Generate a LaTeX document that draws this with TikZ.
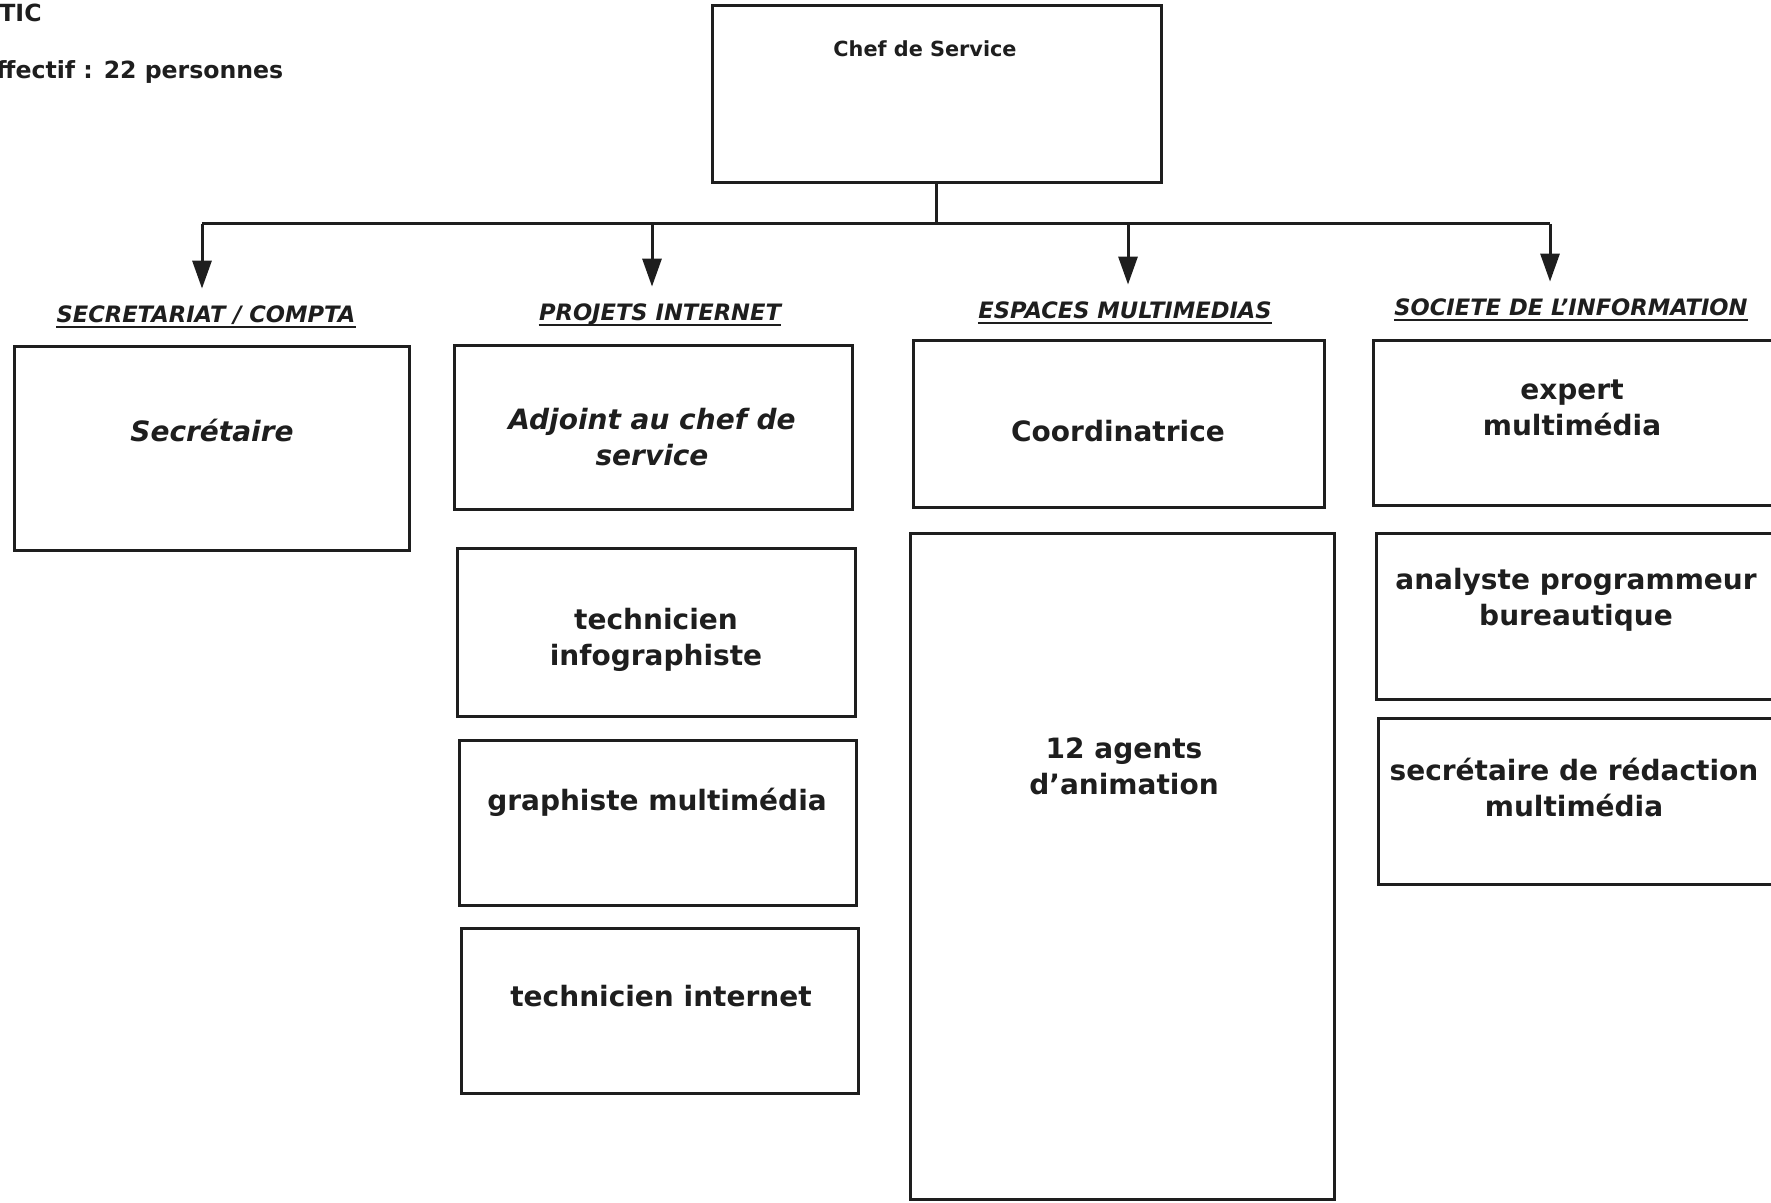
\documentclass[tikz,border=0pt]{standalone}
\usepackage{fontspec}
\setmainfont{DejaVu Sans}
\usetikzlibrary{arrows.meta}
\definecolor{ink}{RGB}{30,30,30}

\begin{document}
\begin{tikzpicture}[x=0.5pt, y=-0.5pt,
    box/.style 2 args={draw=ink, line width=1.5pt, inner sep=0pt,
      minimum width=#1*0.5pt, minimum height=#2*0.5pt},
    role/.style={font=\bfseries\fontsize{14}{18}\selectfont, text=ink,
      align=center, inner sep=0pt},
    rolei/.style={role, font=\bfseries\itshape\fontsize{14}{18}\selectfont},
    unit/.style={font=\bfseries\itshape\fontsize{11.3}{13}\selectfont, text=ink,
      anchor=base, inner sep=0pt, text height=9pt, text depth=2pt},
    toptext/.style={font=\bfseries\fontsize{11.8}{14}\selectfont, text=ink,
      anchor=base west, inner sep=0pt},
    link/.style={draw=ink, line width=1.5pt},
    arr/.style={link, -{Triangle[length=14pt, width=9.5pt]}, shorten >=8pt}]
    \useasboundingbox (0,0) rectangle (1771,1203);

    % top left
    \node[toptext] (dept) at (-1,22) {TIC};
    \node[toptext] (staff) at (-4,79) {ffectif : 22 personnes};

    % head of service
    \node[box={449}{177}] (chef) at (936.5,94.5) {};
    \node[role, font=\bfseries\fontsize{10.4}{12}\selectfont] (cheft) at (925,49) {Chef de Service};

    % sections
    \node[unit] (h1) at (206,323) {SECRETARIAT / COMPTA};
    \node[unit] (h2) at (660,321) {PROJETS INTERNET};
    \node[unit] (h3) at (1125,319) {ESPACES MULTIMEDIAS};
    \node[unit] (h4) at (1571,316) {SOCIETE DE L’INFORMATION};
    \foreach \h in {h1,h2,h3,h4}
      \draw[ink, line width=1pt] (\h.south west) -- (\h.south east);

    \coordinate (b1) at (202,224);
    \coordinate (b2) at (652,224);
    \coordinate (b3) at (1128,224);
    \coordinate (b4) at (1550,224);
    \draw[link] (chef.south) -- (chef.south |- b1);
    \draw[link] (b1) -- (b4);
    \foreach \b/\h in {b1/h1, b2/h2, b3/h3, b4/h4}
      \draw[arr] (\b) -- (\b |- \h.north);

    % secretariat
    \node[box={395}{203}] (sec) at (211.5,448.5) {};
    \node[rolei] (sect) at (212,430) {Secrétaire};

    % projets internet
    \node[box={398}{163}] (adj) at (653,427.5) {};
    \node[rolei] (adjt) at (652,437) {Adjoint au chef de\\service};
    \node[box={398}{168}] (tinf) at (656,632) {};
    \node[role] (tinft) at (656,640) {technicien\\infographiste};
    \node[box={397}{165}] (gmm) at (657.5,822.5) {};
    \node[role] (gmmt) at (657,802) {graphiste multimédia};
    \node[box={397}{165}] (tint) at (659.5,1010.5) {};
    \node[role] (tintt) at (661,996) {technicien internet};

    % espaces multimedias
    \node[box={411}{166}] (coord) at (1118.5,424) {};
    \node[role] (coordt) at (1118,431) {Coordinatrice};
    \node[box={424}{666}] (agents) at (1122,866) {};
    \node[role] (agentst) at (1124,766) {12 agents\\d’animation};

    % societe de l'information
    \node[box={400}{164}] (expert) at (1573,423) {};
    \node[role] (expertt) at (1572,408) {expert\\multimédia};
    \node[box={397}{166}] (analyste) at (1574.5,616) {};
    \node[role] (analystet) at (1576,600) {analyste programmeur\\bureautique};
    \node[box={395}{166}] (secred) at (1575.5,801) {};
    \node[role] (secredt) at (1574,787) {secrétaire de rédaction\\multimédia};
\end{tikzpicture}
\end{document}
